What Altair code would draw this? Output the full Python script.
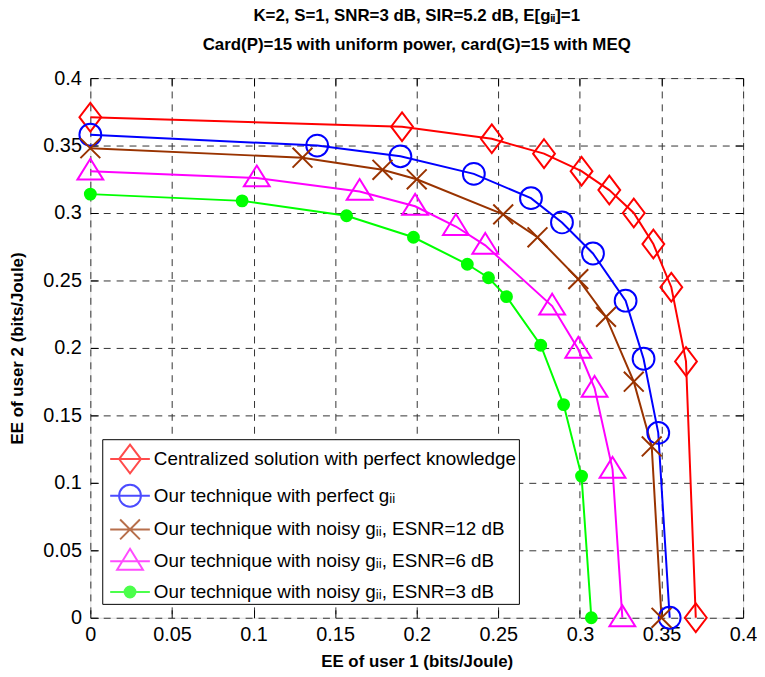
import json
import altair as alt
import pandas as pd

# ---- data ----
series = [
    "Centralized solution with perfect knowledge",
    "Our technique with perfect gᵢᵢ",
    "Our technique with noisy gᵢᵢ, ESNR=12 dB",
    "Our technique with noisy gᵢᵢ, ESNR=6 dB",
    "Our technique with noisy gᵢᵢ, ESNR=3 dB",
]
colors = ["#ff0000", "#0000ff", "#993300", "#ff00ff", "#00ff00"]

red_x = [0, 0.191, 0.246, 0.278, 0.301, 0.318, 0.333, 0.345, 0.356, 0.365, 0.371]
red_y = [0.371, 0.364, 0.355, 0.344, 0.331, 0.317, 0.300, 0.277, 0.245, 0.190, 0]
blue_x = [0, 0.139, 0.190, 0.235, 0.270, 0.289, 0.308, 0.328, 0.339, 0.348, 0.355]
blue_y = [0.358, 0.350, 0.342, 0.329, 0.311, 0.293, 0.270, 0.235, 0.192, 0.137, 0]
brown_x = [0, 0.130, 0.179, 0.200, 0.253, 0.274, 0.299, 0.316, 0.333, 0.344, 0.350]
brown_y = [0.348, 0.341, 0.332, 0.325, 0.299, 0.282, 0.251, 0.223, 0.175, 0.127, 0]
mag_x = [0, 0.102, 0.165, 0.199, 0.224, 0.242, 0.283, 0.299, 0.309, 0.320, 0.326]
mag_y = [0.331, 0.326, 0.316, 0.305, 0.290, 0.276, 0.231, 0.199, 0.170, 0.110, 0]
green_x = [0, 0.093, 0.157, 0.198, 0.231, 0.244, 0.255, 0.276, 0.290, 0.301, 0.307]
green_y = [0.314, 0.309, 0.298, 0.282, 0.262, 0.252, 0.238, 0.202, 0.158, 0.105, 0]

tick_values = [0, 0.05, 0.1, 0.15, 0.2, 0.25, 0.3, 0.35, 0.4]
tick_labels = ["0", "0.05", "0.1", "0.15", "0.2", "0.25", "0.3", "0.35", "0.4"]

xs = [red_x, blue_x, brown_x, mag_x, green_x]
ys = [red_y, blue_y, brown_y, mag_y, green_y]
rows = []
for s, xa, ya in zip(series, xs, ys):
    for i, (xv, yv) in enumerate(zip(xa, ya)):
        rows.append({"series": s, "marker": s, "x": xv, "y": yv, "i": i})
df = pd.DataFrame(rows)

# ---- marker shapes (custom SVG paths) ----
SIZE = 1156
U = (SIZE ** 0.5) / 2.0  # px per path unit


def f(v):
    return f"{v / U:.4f}"


def circle(r):
    return f"M{f(r)},0A{f(r)},{f(r)},0,1,1,-{f(r)},0A{f(r)},{f(r)},0,1,1,{f(r)},0Z"


diamond = f"M0,-{f(14.5)}L{f(11)},0L0,{f(14.5)}L-{f(11)},0Z"
ring = circle(11)
cross = f"M-{f(10)},-{f(10)}L{f(10)},{f(10)}M-{f(10)},{f(10)}L{f(10)},-{f(10)}"
triangle = f"M0,-{f(12.5)}L{f(13)},{f(8.5)}L-{f(13)},{f(8.5)}Z"
dot = circle(5.5) + circle(4) + circle(2.5) + circle(1)
markers = [diamond, ring, cross, triangle, dot]
# legend sample: line through the marker
legline = f"M-{f(20)},0L{f(20)},0"
leg_paths = [legline + m for m in markers]

label_expr = "{}[datum.value > 0.39 ? 8 : round(datum.value * 20)]".format(json.dumps(tick_labels))
leg_color_expr = "{}[indexof({}, datum.value)]".format(json.dumps(colors), json.dumps(series, ensure_ascii=False))

FONT = "Liberation Sans"

xscale = alt.Scale(domain=[0, 0.4], nice=False, zero=False)
yscale = alt.Scale(domain=[0, 0.4], nice=False, zero=False)

legend = alt.Legend(title=None, orient="none", legendX=12, legendY=364,
                    fillColor="white", strokeColor="black",
                    padding=2, symbolOffset=8, symbolSize=SIZE, symbolStrokeWidth=2,
                    symbolFillColor="transparent",
                    symbolStrokeColor=alt.expr(leg_color_expr),
                    labelExpr="datum.label + '\u00a0\u00a0\u00a0\u00a0\u00a0\u00a0\u00a0\u00a0'",
                    labelFontSize=19, labelFont=FONT, labelColor="black",
                    labelOffset=6, rowPadding=0, labelLimit=600)

main_x = alt.Axis(values=tick_values, labelExpr=label_expr, ticks=False, domain=False,
                  grid=True, gridDash=[7, 6], gridColor="#333333", gridWidth=1,
                  labelFontSize=20, labelFont=FONT, labelColor="black", labelPadding=7,
                  labelFlush=False,
                  title="EE of user 1 (bits/Joule)", titleFontSize=17, titleFont=FONT,
                  titleFontWeight="bold", titleColor="black", titlePadding=9)
main_y = alt.Axis(values=tick_values, labelExpr=label_expr, ticks=False, domain=False,
                  grid=True, gridDash=[7, 6], gridColor="#333333", gridWidth=1,
                  labelFontSize=20, labelFont=FONT, labelColor="black", labelPadding=9,
                  labelFlush=False,
                  title="EE of user 2 (bits/Joule)", titleFontSize=17, titleFont=FONT,
                  titleFontWeight="bold", titleColor="black", titlePadding=16)

stroke_scale = alt.Scale(domain=series, range=colors)

lines = alt.Chart(df).mark_line(strokeWidth=2).encode(
    x=alt.X("x:Q", scale=xscale, axis=main_x),
    y=alt.Y("y:Q", scale=yscale, axis=main_y),
    stroke=alt.Stroke("series:N", scale=stroke_scale, legend=None),
    order="i:Q",
    detail="series:N",
)


def tick_axis(orient):
    return alt.Axis(orient=orient, values=tick_values, labels=False, ticks=True, tickSize=8,
                    tickColor="black", tickWidth=1, domain=False, grid=False, title=None,
                    offset=-8)


points = alt.Chart(df).mark_point(size=SIZE, strokeWidth=2, filled=False, opacity=1).encode(
    x=alt.X("x:Q", scale=xscale, axis=tick_axis("top")),
    y=alt.Y("y:Q", scale=yscale, axis=tick_axis("right")),
    stroke=alt.Stroke("series:N", scale=stroke_scale, legend=None),
    shape=alt.Shape("marker:N", scale=alt.Scale(domain=series, range=markers), legend=None),
)

# legend-only layer (draws no marks; its shape scale carries the legend samples)
leg_layer = alt.Chart(df).transform_filter("datum.i < 0").mark_point(
    size=SIZE, strokeWidth=2, filled=False).encode(
    x=alt.X("x:Q", scale=xscale, axis=tick_axis("bottom")),
    y=alt.Y("y:Q", scale=yscale, axis=tick_axis("left")),
    shape=alt.Shape("series:N", scale=alt.Scale(domain=series, range=leg_paths), legend=legend),
)

chart = alt.layer(lines, points, leg_layer).resolve_axis(
    x="independent", y="independent").resolve_scale(shape="independent").properties(
    width=658, height=544,
    autosize=alt.AutoSizeParams(type="none"),
    padding={"left": 83, "top": 68, "right": 14, "bottom": 50},
    title=alt.Title(["K=2, S=1, SNR=3 dB, SIR=5.2 dB, E[gᵢᵢ]=1",
                     "Card(P)=15 with uniform power, card(G)=15 with MEQ"],
                    fontSize=17, font=FONT, fontWeight="bold", color="black",
                    lineHeight=30, offset=14, anchor="middle"),
).configure_view(stroke="black", strokeWidth=1.5).configure(background="white")

chart.save("out.html", embed_options={"renderer": "svg", "actions": False})
